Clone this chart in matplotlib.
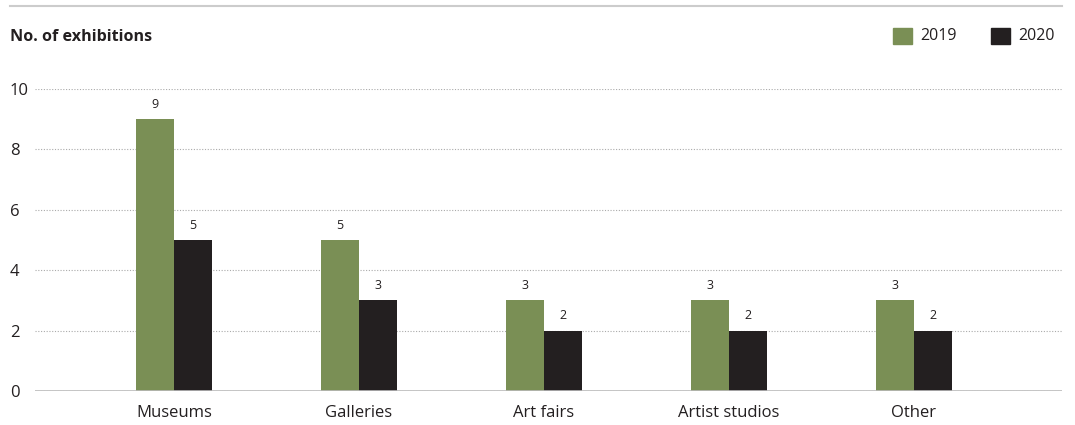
import matplotlib.pyplot as plt
from matplotlib.lines import Line2D
from matplotlib.patches import Rectangle
import numpy as np

categorias = ["Museums", "Galleries", "Art fairs", "Artist studios", "Other"]
valores_2019 = [9, 5, 3, 3, 3]
valores_2020 = [5, 3, 2, 2, 2]
anios = ["2019", "2020"]

VERDE = "#7a8f55"
NEGRO = "#231f20"
plt.rcParams['font.family'] = ['Open Sans', 'DejaVu Sans']

fig = plt.figure(figsize=(10.75, 4.25), dpi=100)
ax = fig.add_axes([35 / 1075, 34 / 425, 1027 / 1075, 302 / 425])

x = np.arange(len(categorias))
ancho = 0.205
barras1 = ax.bar(x - ancho / 2, valores_2019, ancho, color=VERDE, zorder=3)
barras2 = ax.bar(x + ancho / 2, valores_2020, ancho, color=NEGRO, zorder=3)

# Etiquetas de valores sobre cada barra
for barras in (barras1, barras2):
    for b in barras:
        ax.annotate(str(int(b.get_height())), (b.get_x() + b.get_width() / 2, b.get_height()),
                    xytext=(0, 6), textcoords="offset points", ha="center", va="bottom",
                    fontsize=9, color=NEGRO)

ax.set_xlim(-0.751, 4.8)
ax.set_ylim(0, 10)
ax.set_yticks([0, 2, 4, 6, 8, 10])
ax.set_xticks(x)
ax.set_xticklabels(categorias)
ax.tick_params(axis="both", length=0, labelsize=12, colors=NEGRO)
ax.tick_params(axis="y", pad=18)
ax.tick_params(axis="x", pad=10)
for lbl in ax.get_yticklabels():
    lbl.set_horizontalalignment("left")

ax.grid(axis="y", linestyle=(0, (1, 1.5)), color="#aaaaaa", linewidth=0.8, zorder=0)
for s in ax.spines.values():
    s.set_visible(False)
ax.axhline(0, color="#bbbbbb", linewidth=1.2, zorder=4)

# Linea superior y titulo
fig.add_artist(Line2D([10 / 1075, 1062 / 1075], [1 - 6 / 425] * 2, color="#cccccc", linewidth=1.5))
fig.text(10 / 1075, 1 - 37 / 425, "No. of exhibitions", fontsize=11.6, fontweight="bold",
         color=NEGRO, va="center", ha="left")

# Leyenda manual
for px, color, texto in [(893, VERDE, anios[0]), (991, NEGRO, anios[1])]:
    fig.add_artist(Rectangle((px / 1075, 1 - 44 / 425), 19 / 1075, 16 / 425, color=color,
                             transform=fig.transFigure))
    fig.text((px + 27) / 1075, 1 - 36 / 425, texto, fontsize=11.5, color=NEGRO, va="center", ha="left")

plt.savefig("out.png")
